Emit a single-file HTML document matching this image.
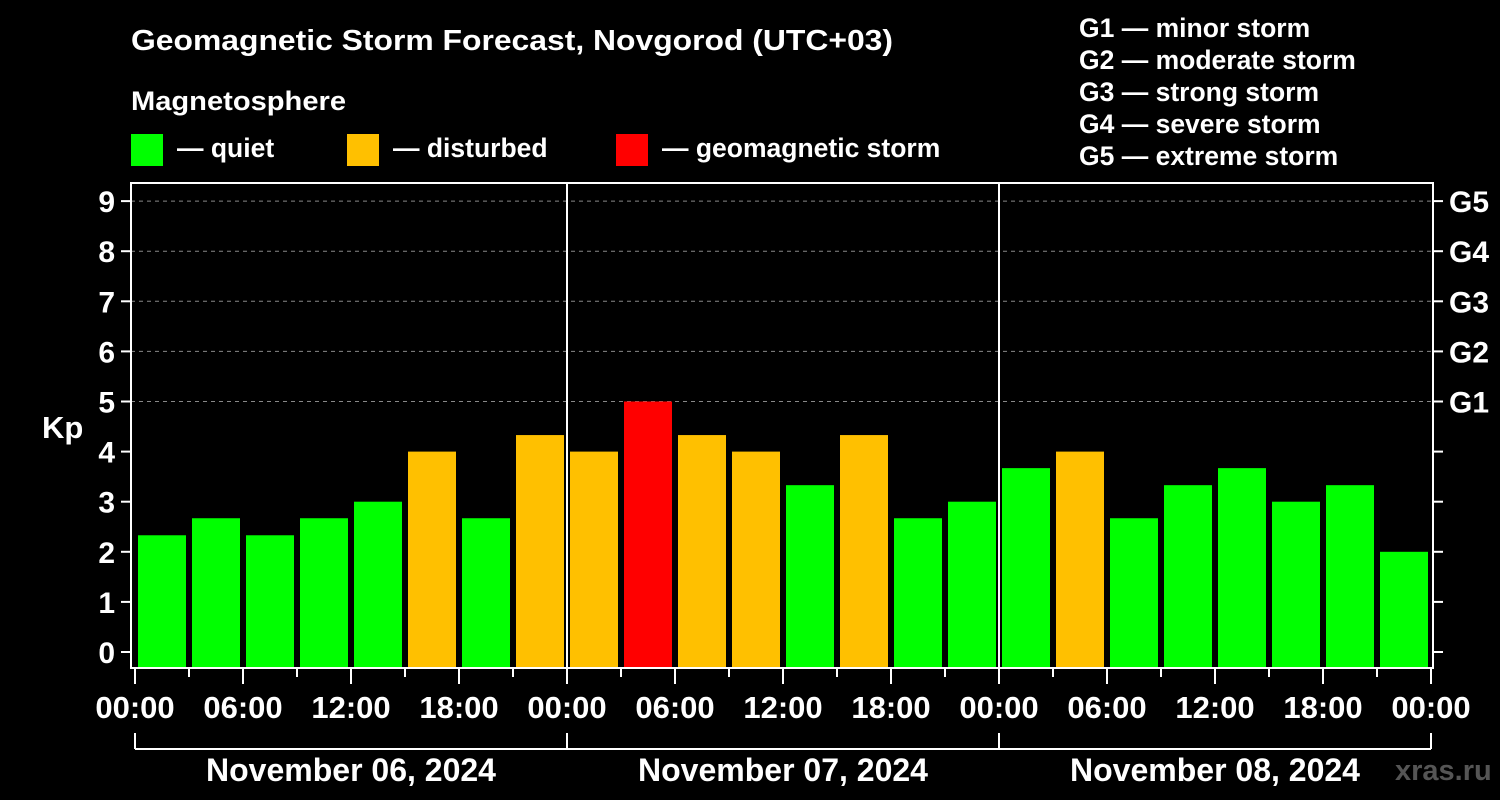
<!DOCTYPE html>
<html><head><meta charset="utf-8"><style>
body{margin:0;background:#000;width:1500px;height:800px;overflow:hidden}
svg{display:block;font-family:"Liberation Sans",sans-serif;font-weight:bold}
</style></head><body>
<svg id="chart" width="1500" height="800">
<rect width="1500" height="800" fill="#000"/>
<text x="131" y="50" fill="#fff" font-size="29" textLength="762" lengthAdjust="spacingAndGlyphs">Geomagnetic Storm Forecast, Novgorod (UTC+03)</text>
<text x="131" y="110" fill="#fff" font-size="26.5" textLength="215" lengthAdjust="spacingAndGlyphs">Magnetosphere</text>
<g><rect x="131" y="134" width="32" height="32" fill="#00ff00"/><text x="177" y="157" fill="#fff" font-size="26.5">— quiet</text></g>
<g><rect x="347" y="134" width="32" height="32" fill="#ffc000"/><text x="393" y="157" fill="#fff" font-size="26.5">— disturbed</text></g>
<g><rect x="616" y="134" width="32" height="32" fill="#ff0000"/><text x="662" y="157" fill="#fff" font-size="26.5">— geomagnetic storm</text></g>
<g fill="#fff" font-size="26.5">
<text x="1079" y="37">G1 — minor storm</text>
<text x="1079" y="69">G2 — moderate storm</text>
<text x="1079" y="101">G3 — strong storm</text>
<text x="1079" y="133">G4 — severe storm</text>
<text x="1079" y="165">G5 — extreme storm</text>
</g>
<text x="42" y="438" fill="#fff" font-size="31">Kp</text>
<text x="1395" y="780" fill="#555" font-size="29">xras.ru</text>
<g id="plot"></g>
</svg>
<script>
const kpValues=[2.33,2.67,2.33,2.67,3,4,2.67,4.33, 4,5,4.33,4,3.33,4.33,2.67,3, 3.67,4,2.67,3.33,3.67,3,3.33,2];
const yTicks=[0,1,2,3,4,5,6,7,8,9];
const gLabels=["G1","G2","G3","G4","G5"];
const xTickLabels=["00:00","06:00","12:00","18:00","00:00","06:00","12:00","18:00","00:00","06:00","12:00","18:00","00:00"];
const dayLabels=["November 06, 2024","November 07, 2024","November 08, 2024"];
const NS="http://www.w3.org/2000/svg";
const g=document.getElementById('plot');
const X0=135,DAY=432,Y0=652,UNIT=50.1;
const L=131,R=1433,T=183,B=668;
const xh=h=>X0+h*DAY/24;
const y=v=>Y0-v*UNIT;
function el(t,a,p){const e=document.createElementNS(NS,t);for(const k in a)e.setAttribute(k,a[k]);(p||g).appendChild(e);return e;}
for(let v=5;v<=9;v++){const l=el('line',{x1:L,x2:R,y1:y(v),y2:y(v),stroke:'#888','stroke-width':1,'stroke-dasharray':'4,4'});

}
kpValues.forEach((v,i)=>{const c=v>=5?'#ff0000':(v>=4?'#ffc000':'#00ff00');
const r=el('rect',{x:xh(i*3)+3,y:y(v),width:48,height:B-y(v),fill:c});

});
const f=el('rect',{x:L,y:T,width:R-L,height:B-T,fill:'none',stroke:'#fff','stroke-width':2});


for(let d=1;d<3;d++){const l=el('line',{x1:xh(d*24),x2:xh(d*24),y1:T,y2:B,stroke:'#fff','stroke-width':2});

}
yTicks.forEach(v=>{el('line',{x1:121,x2:L,y1:y(v),y2:y(v),stroke:'#fff','stroke-width':2});
el('line',{x1:R,x2:R+10,y1:y(v),y2:y(v),stroke:'#fff','stroke-width':2});
const t=el('text',{x:115,y:y(v)+11,fill:'#fff','font-size':30,'text-anchor':'end'});t.textContent=v;

});
gLabels.forEach((s,i)=>{const t=el('text',{x:1449,y:y(i+5)+11,fill:'#fff','font-size':30});t.textContent=s;

});
for(let h=0;h<=72;h+=3){const big=h%6==0;el('line',{x1:xh(h),x2:xh(h),y1:B,y2:B+(big?16:9),stroke:'#fff','stroke-width':2});}
xTickLabels.forEach((s,i)=>{const t=el('text',{x:xh(i*6),y:718,fill:'#fff','font-size':31,'text-anchor':'middle'});t.textContent=s;

});
el('line',{x1:xh(0),x2:xh(72),y1:749,y2:749,stroke:'#fff','stroke-width':2});
for(let d=0;d<=3;d++)el('line',{x1:xh(d*24),x2:xh(d*24),y1:733,y2:749,stroke:'#fff','stroke-width':2});
dayLabels.forEach((s,i)=>{const t=el('text',{x:xh(i*24+12),y:781,fill:'#fff','font-size':32,'text-anchor':'middle'});t.textContent=s;

});
</script>
</body></html>
